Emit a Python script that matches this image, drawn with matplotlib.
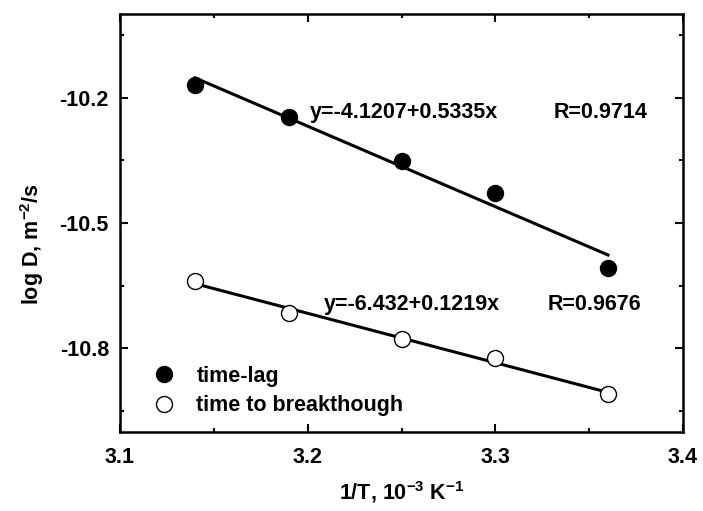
import numpy as np
import matplotlib
matplotlib.use("Agg")
from matplotlib import pyplot as plt
from matplotlib.ticker import FixedLocator, FormatStrFormatter

# data
inv_T = [3.14, 3.19, 3.25, 3.30, 3.36]
logD_lag = [-10.170, -10.247, -10.351, -10.429, -10.607]
logD_break = [-10.638, -10.716, -10.778, -10.822, -10.910]

eq_lag = "y=-4.1207+0.5335x"
r_lag = "R=0.9714"
eq_break = "y=-6.432+0.1219x"
r_break = "R=0.9676"

plt.rcParams['font.family'] = ['Liberation Sans', 'DejaVu Sans']
plt.rcParams['font.weight'] = 'bold'
plt.rcParams['mathtext.fontset'] = 'custom'
plt.rcParams['mathtext.rm'] = 'Liberation Sans:bold'
plt.rcParams['mathtext.default'] = 'rm'

FS = 15.5

fig = plt.figure(figsize=(7.03, 5.11), dpi=100)
ax = fig.add_axes([120 / 703, 1 - 432 / 511, (683 - 120) / 703, (432 - 14) / 511])

x = np.array(inv_T)
for ys, face, lab in [(logD_lag, 'black', 'time-lag'),
                      (logD_break, 'white', 'time to breakthough')]:
    ax.plot(x, ys, 'o', ms=11.5, mfc=face, mec='black', mew=1.0, ls='none', label=lab, zorder=3)
    k, b = np.polyfit(x, ys, 1)
    ax.plot([x[0], x[-1]], [k * x[0] + b, k * x[-1] + b], color='black', lw=2.2, zorder=2)

ax.set_xlim(3.1, 3.4)
ax.set_ylim(-11.0, -10.0)
ax.xaxis.set_major_locator(FixedLocator([3.1, 3.2, 3.3, 3.4]))
ax.xaxis.set_minor_locator(FixedLocator([3.15, 3.25, 3.35]))
ax.yaxis.set_major_locator(FixedLocator([-10.2, -10.5, -10.8]))
ax.yaxis.set_minor_locator(FixedLocator([-10.05, -10.35, -10.65, -10.95]))
ax.yaxis.set_major_formatter(FormatStrFormatter('%.1f'))
ax.tick_params(which='both', direction='in', top=True, right=True, width=1.5, labelsize=FS)
ax.tick_params(axis='x', pad=11)
ax.tick_params(axis='y', pad=8)
ax.tick_params(which='major', length=6)
ax.tick_params(which='minor', length=3)
for s in ax.spines.values():
    s.set_linewidth(1.8)

ax.set_xlabel(r'1/T, 10$^{-3}$ K$^{-1}$', fontsize=FS, fontweight='bold')
ax.set_ylabel(r'log D, m$^{-2}$/s', fontsize=FS, fontweight='bold')
ax.xaxis.set_label_coords(0.5, -0.112)
ax.yaxis.set_label_coords(-0.132, 0.45)

ax.text(3.2012, -10.236, eq_lag, fontsize=FS, fontweight='bold', va='center')
ax.text(3.3312, -10.236, r_lag, fontsize=FS, fontweight='bold', va='center')
ax.text(3.2087, -10.696, eq_break, fontsize=FS, fontweight='bold', va='center')
ax.text(3.3280, -10.696, r_break, fontsize=FS, fontweight='bold', va='center')

ax.legend(loc='lower left', frameon=False, fontsize=FS, handletextpad=1.0,
          borderaxespad=0, labelspacing=0.4, handlelength=1.0,
          bbox_to_anchor=(0.044, 0.017))

fig.savefig('out.png', dpi=100)
